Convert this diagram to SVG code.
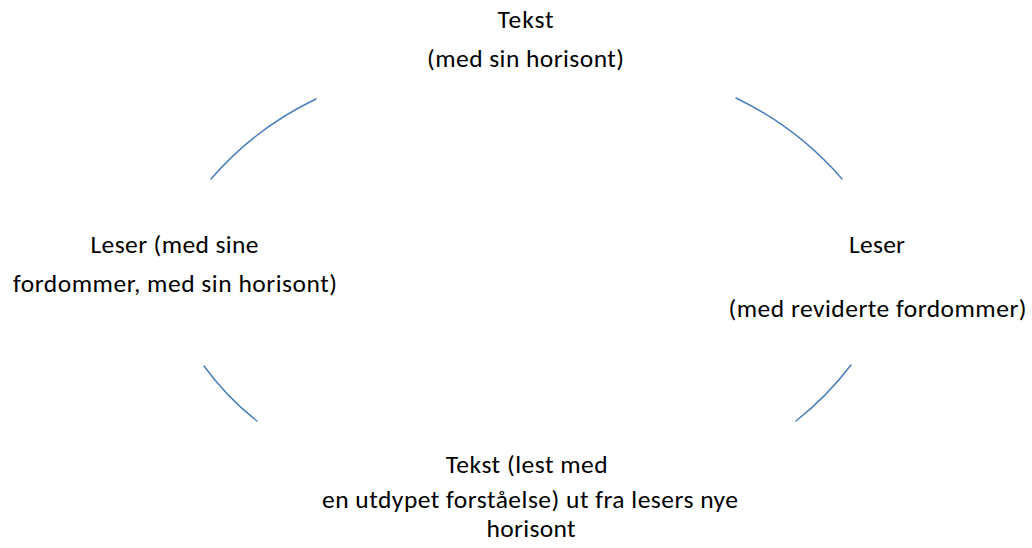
<svg xmlns="http://www.w3.org/2000/svg" width="1032" height="548" viewBox="0 0 1032 548">
  <style>
    text { font-family: Carlito, Calibri, Lato, "Open Sans", sans-serif; font-size: 25.5px; fill: #000; text-anchor: middle; }
    .arc { fill: none; stroke: #4A7EBB; stroke-width: 1.5; stroke-linecap: round; }
  </style>
  <rect width="1032" height="548" fill="#fff"/>
  <g id="connectors">
    <path class="arc" d="M211,179 Q255,128 316,99"/>
    <path class="arc" d="M736,98 Q798,128 842,179"/>
    <path class="arc" d="M204,366 Q226.5,397 257,421"/>
    <path class="arc" d="M796,421 Q826.5,397 851,365"/>
  </g>
  <g id="node-top">
    <text x="525.5" y="28" textLength="56">Tekst</text>
    <text x="525.5" y="67" textLength="197">(med sin horisont)</text>
  </g>
  <g id="node-left">
    <text x="174.5" y="253" textLength="168">Leser (med sine</text>
    <text x="175" y="292" textLength="324">fordommer, med sin horisont)</text>
  </g>
  <g id="node-right">
    <text x="877" y="253" textLength="56">Leser</text>
    <text x="877.5" y="317" textLength="298">(med reviderte fordommer)</text>
  </g>
  <g id="node-bottom">
    <text x="526.7" y="473" textLength="162">Tekst (lest med</text>
    <text x="530" y="508" textLength="416">en utdypet forståelse) ut fra lesers nye</text>
    <text x="531" y="537" textLength="89">horisont</text>
  </g>
</svg>
